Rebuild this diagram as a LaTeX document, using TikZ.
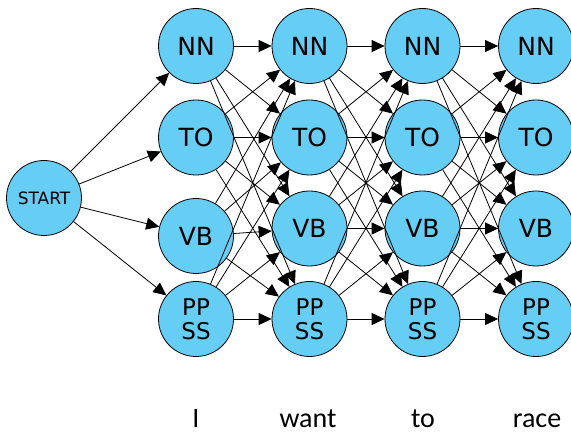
\documentclass[tikz,border=0pt]{standalone}
\usepackage{fontspec}
\setmainfont{DejaVu Sans}
\newfontfamily\wordfont{Carlito}
\usetikzlibrary{arrows.meta}
\definecolor{tagblue}{RGB}{102,205,245}

\begin{document}
\begin{tikzpicture}[x=1pt, y=-1pt,
		tag/.style={circle, draw=black, line width=0.8pt, fill=tagblue, minimum size=75pt, inner sep=0pt, font=\fontsize{25}{25}\selectfont},
		pair/.style={tag, align=center, font=\fontsize{23}{24}\selectfont},
		word/.style={anchor=base, inner sep=0pt, font=\wordfont\fontsize{28}{28}\selectfont},
		every edge/.style={draw, line width=0.8pt, -{Triangle[length=13pt,width=12pt]}}]
		%%%%% START %%%%%
		
		\clip (0, 0) rectangle (571, 435);
		
		\node[tag, font=\fontsize{17}{17}\selectfont] (start) at (44, 198) {START};
		
		\node[tag] (nn1) at (196, 46) {NN};
		\node[tag] (to1) at (196, 137.5) {TO};
		\node[tag] (vb1) at (196, 236) {VB};
		\node[pair] (pp1) at (196, 319) {PP\\SS};
		
		\node[tag] (nn2) at (309.5, 46) {NN};
		\node[tag] (to2) at (309.5, 137.5) {TO};
		\node[tag] (vb2) at (309.5, 228.5) {VB};
		\node[pair] (pp2) at (309.5, 319) {PP\\SS};
		
		\node[tag] (nn3) at (422.5, 46) {NN};
		\node[tag] (to3) at (422.5, 137.5) {TO};
		\node[tag] (vb3) at (422.5, 228.5) {VB};
		\node[pair] (pp3) at (422.5, 319) {PP\\SS};
		
		\node[tag] (nn4) at (536, 46) {NN};
		\node[tag] (to4) at (536, 137.5) {TO};
		\node[tag] (vb4) at (536, 228.5) {VB};
		\node[pair] (pp4) at (536, 319) {PP\\SS};
		
		\draw (start) edge (nn1) edge (to1) edge (vb1) edge (pp1);
		
		\draw (nn1) edge (nn2) edge (to2) edge (vb2) edge (pp2);
		\draw (to1) edge (nn2) edge (to2) edge (vb2) edge (pp2);
		\draw (vb1) edge (nn2) edge (to2) edge (vb2) edge (pp2);
		\draw (pp1) edge (nn2) edge (to2) edge (vb2) edge (pp2);
		
		\draw (nn2) edge (nn3) edge (to3) edge (vb3) edge (pp3);
		\draw (to2) edge (nn3) edge (to3) edge (vb3) edge (pp3);
		\draw (vb2) edge (nn3) edge (to3) edge (vb3) edge (pp3);
		\draw (pp2) edge (nn3) edge (to3) edge (vb3) edge (pp3);
		
		\draw (nn3) edge (nn4) edge (to4) edge (vb4) edge (pp4);
		\draw (to3) edge (nn4) edge (to4) edge (vb4) edge (pp4);
		\draw (vb3) edge (nn4) edge (to4) edge (vb4) edge (pp4);
		\draw (pp3) edge (nn4) edge (to4) edge (vb4) edge (pp4);
		
		\node[word] (w1) at (196, 428) {I};
		\node[word] (w2) at (308, 428) {want};
		\node[word] (w3) at (423, 428) {to};
		\node[word] (w4) at (537, 428) {race};
		
		%%%%% END %%%%%
\end{tikzpicture}
\end{document}
